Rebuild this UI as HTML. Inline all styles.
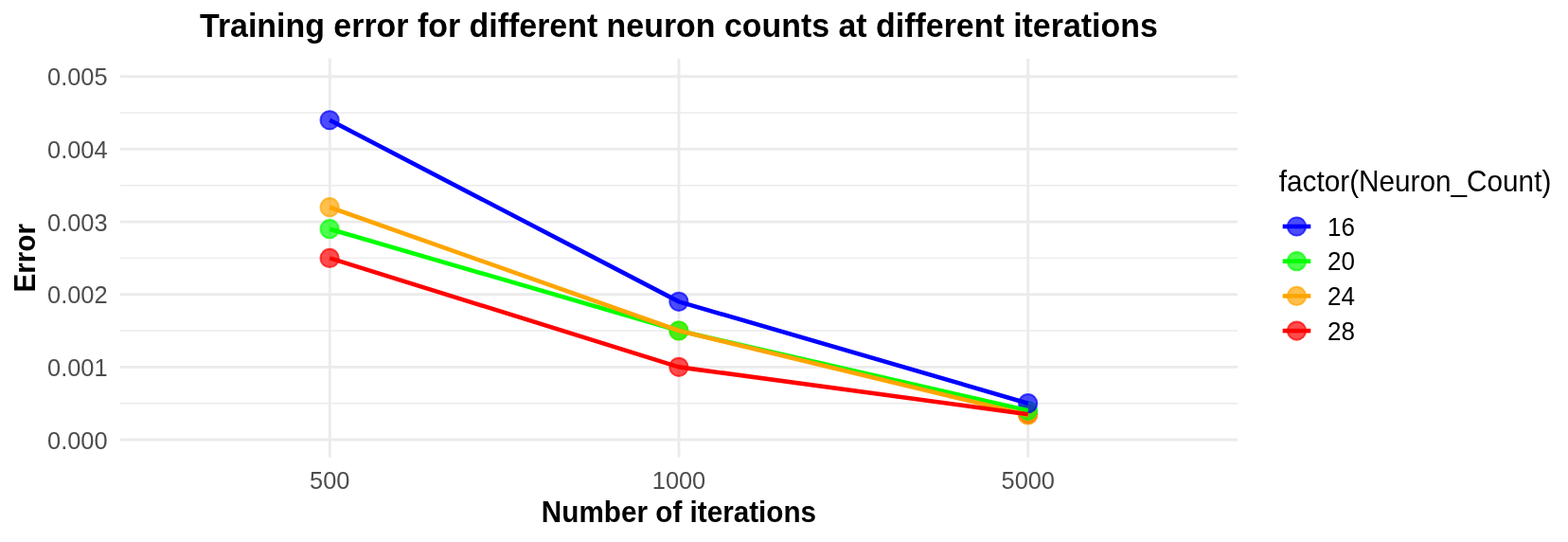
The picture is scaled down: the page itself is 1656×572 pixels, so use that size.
<!DOCTYPE html>
<html><head><meta charset="utf-8"><title>Training error</title>
<style>
html,body{margin:0;padding:0;background:#fff;}
body{width:1656px;height:572px;overflow:hidden;}
svg{display:block;}
text{font-family:"Liberation Sans",Arial,Helvetica,sans-serif;}
.ax{font-size:25.4px;fill:#4D4D4D;}
.ttl{font-size:33.92px;font-weight:bold;fill:#000;}
.at{font-size:29.7px;font-weight:bold;fill:#000;}
.lt{font-size:29.73px;fill:#000;}
.ll{font-size:26px;fill:#000;}
</style></head><body>
<svg width="1656" height="572" viewBox="0 0 1656 572">
<rect x="0" y="0" width="1656" height="572" fill="#FFFFFF"/>
<line x1="127.0" x2="1307.0" y1="425.68" y2="425.68" stroke="#EBEBEB" stroke-width="1.42"/>
<line x1="127.0" x2="1307.0" y1="349.02" y2="349.02" stroke="#EBEBEB" stroke-width="1.42"/>
<line x1="127.0" x2="1307.0" y1="272.38" y2="272.38" stroke="#EBEBEB" stroke-width="1.42"/>
<line x1="127.0" x2="1307.0" y1="195.72" y2="195.72" stroke="#EBEBEB" stroke-width="1.42"/>
<line x1="127.0" x2="1307.0" y1="119.07" y2="119.07" stroke="#EBEBEB" stroke-width="1.42"/>
<line x1="127.0" x2="1307.0" y1="464.00" y2="464.00" stroke="#EBEBEB" stroke-width="2.85"/>
<line x1="127.0" x2="1307.0" y1="387.35" y2="387.35" stroke="#EBEBEB" stroke-width="2.85"/>
<line x1="127.0" x2="1307.0" y1="310.70" y2="310.70" stroke="#EBEBEB" stroke-width="2.85"/>
<line x1="127.0" x2="1307.0" y1="234.05" y2="234.05" stroke="#EBEBEB" stroke-width="2.85"/>
<line x1="127.0" x2="1307.0" y1="157.40" y2="157.40" stroke="#EBEBEB" stroke-width="2.85"/>
<line x1="127.0" x2="1307.0" y1="80.75" y2="80.75" stroke="#EBEBEB" stroke-width="2.85"/>
<line x1="348.25" x2="348.25" y1="61.8" y2="482.8" stroke="#EBEBEB" stroke-width="2.85"/>
<line x1="717.00" x2="717.00" y1="61.8" y2="482.8" stroke="#EBEBEB" stroke-width="2.85"/>
<line x1="1085.75" x2="1085.75" y1="61.8" y2="482.8" stroke="#EBEBEB" stroke-width="2.85"/>
<circle cx="348.15" cy="272.38" r="9.65" fill="#FF0000" fill-opacity="0.7" stroke="#FF0000" stroke-opacity="0.7" stroke-width="1.9"/>
<circle cx="716.90" cy="387.35" r="9.65" fill="#FF0000" fill-opacity="0.7" stroke="#FF0000" stroke-opacity="0.7" stroke-width="1.9"/>
<circle cx="1085.65" cy="437.17" r="9.65" fill="#FF0000" fill-opacity="0.7" stroke="#FF0000" stroke-opacity="0.7" stroke-width="1.9"/>
<circle cx="348.15" cy="218.72" r="9.65" fill="#FFA500" fill-opacity="0.7" stroke="#FFA500" stroke-opacity="0.7" stroke-width="1.9"/>
<circle cx="716.90" cy="349.02" r="9.65" fill="#FFA500" fill-opacity="0.7" stroke="#FFA500" stroke-opacity="0.7" stroke-width="1.9"/>
<circle cx="1085.65" cy="437.94" r="9.65" fill="#FFA500" fill-opacity="0.7" stroke="#FFA500" stroke-opacity="0.7" stroke-width="1.9"/>
<circle cx="348.15" cy="241.72" r="9.65" fill="#00FF00" fill-opacity="0.7" stroke="#00FF00" stroke-opacity="0.7" stroke-width="1.9"/>
<circle cx="716.90" cy="349.02" r="9.65" fill="#00FF00" fill-opacity="0.7" stroke="#00FF00" stroke-opacity="0.7" stroke-width="1.9"/>
<circle cx="1085.65" cy="433.34" r="9.65" fill="#00FF00" fill-opacity="0.7" stroke="#00FF00" stroke-opacity="0.7" stroke-width="1.9"/>
<circle cx="348.15" cy="126.74" r="9.65" fill="#0000FF" fill-opacity="0.7" stroke="#0000FF" stroke-opacity="0.7" stroke-width="1.9"/>
<circle cx="716.90" cy="318.37" r="9.65" fill="#0000FF" fill-opacity="0.7" stroke="#0000FF" stroke-opacity="0.7" stroke-width="1.9"/>
<circle cx="1085.65" cy="425.68" r="9.65" fill="#0000FF" fill-opacity="0.7" stroke="#0000FF" stroke-opacity="0.7" stroke-width="1.9"/>
<polyline points="348.25,126.74 717.00,318.37 1085.75,425.68" fill="none" stroke="#0000FF" stroke-width="4.6" stroke-linejoin="round" stroke-linecap="butt"/>
<polyline points="348.25,241.72 717.00,349.02 1085.75,433.34" fill="none" stroke="#00FF00" stroke-width="4.6" stroke-linejoin="round" stroke-linecap="butt"/>
<polyline points="348.25,218.72 717.00,349.02 1085.75,437.94" fill="none" stroke="#FFA500" stroke-width="4.6" stroke-linejoin="round" stroke-linecap="butt"/>
<polyline points="348.25,272.38 717.00,387.35 1085.75,437.17" fill="none" stroke="#FF0000" stroke-width="4.6" stroke-linejoin="round" stroke-linecap="butt"/>
<text class="ax" transform="translate(113.6,473.70) scale(1,1.05)" text-anchor="end">0.000</text>
<text class="ax" transform="translate(113.6,397.05) scale(1,1.05)" text-anchor="end">0.001</text>
<text class="ax" transform="translate(113.6,320.40) scale(1,1.05)" text-anchor="end">0.002</text>
<text class="ax" transform="translate(113.6,243.75) scale(1,1.05)" text-anchor="end">0.003</text>
<text class="ax" transform="translate(113.6,167.10) scale(1,1.05)" text-anchor="end">0.004</text>
<text class="ax" transform="translate(113.6,90.45) scale(1,1.05)" text-anchor="end">0.005</text>
<text class="ax" transform="translate(348.25,515.9) scale(1,1.05)" text-anchor="middle">500</text>
<text class="ax" transform="translate(717.00,515.9) scale(1,1.05)" text-anchor="middle">1000</text>
<text class="ax" transform="translate(1085.75,515.9) scale(1,1.05)" text-anchor="middle">5000</text>
<text class="ttl" transform="translate(716.90,39.05) scale(1,1.04)" text-anchor="middle">Training error for different neuron counts at different iterations</text>
<text class="at" transform="translate(717.00,550.8) scale(1,1.04)" text-anchor="middle">Number of iterations</text>
<text class="at" transform="translate(36.6,272.30) rotate(-90) scale(1,1.04)" text-anchor="middle">Error</text>
<text class="lt" transform="translate(1350.8,202.2) scale(1,1.04)">factor(Neuron_Count)</text>
<circle cx="1369.5" cy="239.00" r="9.65" fill="#0000FF" fill-opacity="0.7" stroke="#0000FF" stroke-opacity="0.7" stroke-width="1.9"/>
<line x1="1354.7" x2="1384.3" y1="239.00" y2="239.00" stroke="#0000FF" stroke-width="4.6"/>
<text class="ll" transform="translate(1402.1,248.70) scale(1,1.06)">16</text>
<circle cx="1369.5" cy="275.70" r="9.65" fill="#00FF00" fill-opacity="0.7" stroke="#00FF00" stroke-opacity="0.7" stroke-width="1.9"/>
<line x1="1354.7" x2="1384.3" y1="275.70" y2="275.70" stroke="#00FF00" stroke-width="4.6"/>
<text class="ll" transform="translate(1402.1,285.40) scale(1,1.06)">20</text>
<circle cx="1369.5" cy="312.40" r="9.65" fill="#FFA500" fill-opacity="0.7" stroke="#FFA500" stroke-opacity="0.7" stroke-width="1.9"/>
<line x1="1354.7" x2="1384.3" y1="312.40" y2="312.40" stroke="#FFA500" stroke-width="4.6"/>
<text class="ll" transform="translate(1402.1,322.10) scale(1,1.06)">24</text>
<circle cx="1369.5" cy="349.10" r="9.65" fill="#FF0000" fill-opacity="0.7" stroke="#FF0000" stroke-opacity="0.7" stroke-width="1.9"/>
<line x1="1354.7" x2="1384.3" y1="349.10" y2="349.10" stroke="#FF0000" stroke-width="4.6"/>
<text class="ll" transform="translate(1402.1,358.80) scale(1,1.06)">28</text>
</svg>
</body></html>
